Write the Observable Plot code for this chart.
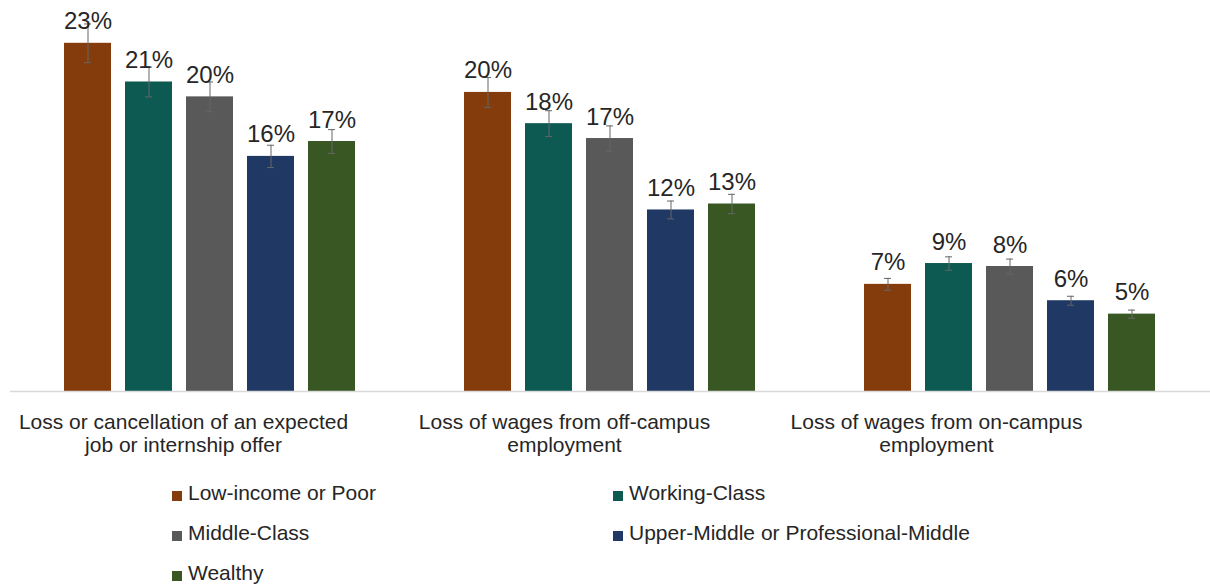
<!DOCTYPE html>
<html>
<head>
<meta charset="utf-8">
<script src="https://cdn.jsdelivr.net/npm/d3@7"></script>
<script src="https://cdn.jsdelivr.net/npm/@observablehq/plot@0.6"></script>
<style>
  body { margin: 0; background: #fff; font-family: "Liberation Sans", Arial, sans-serif; }
  #legend { display: grid; grid-template-columns: 441px auto; grid-auto-rows: 40px; margin-left: 172px; margin-top: 3px; font-size: 21px; color: #262626; }
  .item { display: flex; align-items: center; }
  .sw { width: 10px; height: 10px; margin-right: 6px; margin-top: 5px; }
</style>
</head>
<body>
<div id="chart"></div>
<div id="legend"></div>
<script>
const groups = [
  "Loss or cancellation of an expected\njob or internship offer",
  "Loss of wages from off-campus\nemployment",
  "Loss of wages from on-campus\nemployment"
];
const classes = ["Low-income or Poor", "Working-Class", "Middle-Class", "Upper-Middle or Professional-Middle", "Wealthy"];
const colors = ["#843C0C", "#0C5A52", "#595959", "#1F3864", "#385723"];
// values (%) per group, in class order
const lossJob = [23.4, 20.8, 19.8, 15.8, 16.8];
const lossOff = [20.1, 18.0, 17.0, 12.2, 12.6];
const lossOn  = [7.2, 8.6, 8.4, 6.1, 5.2];
// error margins (± %)
const errJob = [1.3, 1.0, 1.0, 0.75, 0.8];
const errOff = [1.0, 0.87, 0.85, 0.6, 0.65];
const errOn  = [0.4, 0.45, 0.5, 0.3, 0.27];

const series = [lossJob, lossOff, lossOn];
const errs = [errJob, errOff, errOn];
const data = [];
groups.forEach((g, gi) => classes.forEach((c, ci) => {
  data.push({group: g, cls: c, value: series[gi][ci], err: errs[gi][ci]});
}));

// horizontal nudges of the category labels (style)
const labelNudge = [-27, -46, -74];

const chart = Plot.plot({
  width: 1210,
  height: 470,
  marginLeft: 10,
  marginRight: 0,
  marginTop: 19,
  marginBottom: 79,
  style: {fontFamily: "Liberation Sans, Arial, sans-serif", color: "#262626", background: "#fff"},
  fx: {domain: groups, paddingInner: 0, paddingOuter: 0, label: null},
  x: {domain: classes, paddingInner: 0.226, paddingOuter: 0.85, axis: null},
  y: {domain: [0, 25], axis: null},
  color: {domain: classes, range: colors},
  marks: [
    Plot.barY(data, {fx: "group", x: "cls", y: "value", fill: "cls"}),
    Plot.ruleY([0], {stroke: "#d9d9d9", strokeWidth: 1.5}),
    Plot.ruleX(data, {fx: "group", x: "cls", y1: d => d.value - d.err, y2: d => d.value + d.err, stroke: "#666", strokeWidth: 1}),
    Plot.tickY(data, {fx: "group", x: "cls", y: d => d.value + d.err, stroke: "#666", strokeWidth: 1, insetLeft: 20, insetRight: 20}),
    Plot.tickY(data, {fx: "group", x: "cls", y: d => d.value - d.err, stroke: "#666", strokeWidth: 1, insetLeft: 20, insetRight: 20}),
    Plot.text(data, {fx: "group", x: "cls", y: "value", text: d => Math.round(d.value) + "%", dy: -14, lineAnchor: "bottom", fontSize: 24, fill: "#262626"}),
    ...groups.map((g, i) => Plot.axisFx({ticks: [g], anchor: "bottom", tickSize: 0, tickPadding: 20, fontSize: 21, lineHeight: 1.14, dx: labelNudge[i], label: null, fill: "#262626"}))
  ]
});
document.getElementById("chart").appendChild(chart);

const legend = document.getElementById("legend");
classes.forEach((c, i) => {
  const it = document.createElement("div");
  it.className = "item";
  const sw = document.createElement("span");
  sw.className = "sw";
  sw.style.background = colors[i];
  const t = document.createElement("span");
  t.textContent = c;
  it.appendChild(sw); it.appendChild(t);
  legend.appendChild(it);
});
</script>
</body>
</html>
